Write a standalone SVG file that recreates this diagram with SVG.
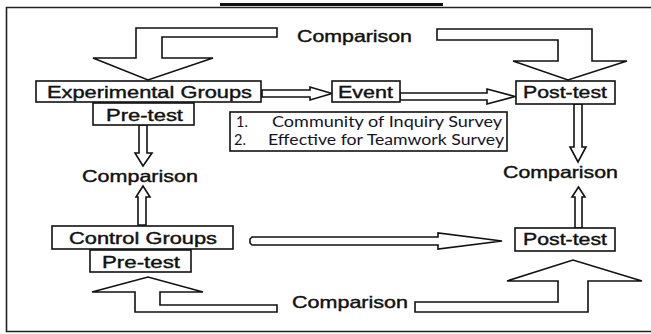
<svg xmlns="http://www.w3.org/2000/svg" width="651" height="334" viewBox="0 0 651 334">
<style>
.box{fill:#fff;stroke:#111;stroke-width:1.6}
.arr{fill:#fff;stroke:#111;stroke-width:1.6;stroke-linejoin:miter}
.lbl{font-family:"Liberation Sans",Arial,sans-serif;font-size:16.5px;fill:#111;stroke:#111;stroke-width:0.4}
.sv{font-family:Lato,"Liberation Sans",sans-serif;font-size:14.5px;fill:#141428}
</style>
<rect width="651" height="334" fill="#fff"/>
<g id="frame">
<path d="M651,7.5 H6.5 V331.5 H651" fill="none" stroke="#222" stroke-width="1.6"/>
<rect x="220" y="3" width="223" height="3" fill="#111"/>
</g>
<g id="connectors">
<polygon class="arr" points="136,28 277,28 277,37 162,37 162,58 213,58 148,80 93,58 136,58"/>
<polygon class="arr" points="437,29 592,29 592,61 627,61 568,80 513,61 558,61 558,40 437,40"/>
<polygon class="arr" points="262,90 310,90 310,87 332,93.5 310,100 310,97 262,97"/>
<polygon class="arr" points="400,93 487,93 487,89 515,96.5 487,104 487,100 400,100"/>
<polygon class="arr" points="139,125 147,125 147,153 152,153 143,166 135,153 139,153"/>
<polygon class="arr" points="138,225 146,225 146,197 150,197 143,186 136,197 138,197"/>
<polygon class="arr" points="574,104 582,104 582,147 586,147 578,162 570,147 574,147"/>
<polygon class="arr" points="575,228 582,228 582,197 585,197 578.5,187 572,197 575,197"/>
<polygon class="arr" points="252,237 438,237 438,233 502,241 438,249 438,245 252,245 250,243 250,239"/>
<polygon class="arr" points="135,312 277,312 277,305 160,305 160,292 203,292 148,277 92,292 135,292"/>
<polygon class="arr" points="415,302 558,302 558,281 507,281 573,260 642,281 588,281 588,312 415,312"/>
</g>
<g id="comparison-top"><text class="lbl" x="297" y="42" textLength="115" lengthAdjust="spacingAndGlyphs">Comparison</text></g>
<g id="experimental-groups">
<rect class="box" x="36" y="81" width="225" height="21"/>
<text class="lbl" x="47" y="98" textLength="205" lengthAdjust="spacingAndGlyphs">Experimental Groups</text>
</g>
<g id="pretest-exp">
<rect class="box" x="93" y="103" width="101" height="22"/>
<text class="lbl" x="106" y="121" textLength="77" lengthAdjust="spacingAndGlyphs">Pre-test</text>
</g>
<g id="event">
<rect class="box" x="332" y="81" width="68" height="21"/>
<text class="lbl" x="338" y="97.5" textLength="55" lengthAdjust="spacingAndGlyphs">Event</text>
</g>
<g id="posttest-exp">
<rect class="box" x="516" y="81" width="99" height="23"/>
<text class="lbl" x="523" y="98" textLength="84" lengthAdjust="spacingAndGlyphs">Post-test</text>
</g>
<g id="surveys">
<rect class="box" x="230" y="112" width="277" height="39"/>
<text class="sv" x="236" y="127">1.</text>
<text class="sv" x="272" y="127" textLength="230" lengthAdjust="spacingAndGlyphs">Community of Inquiry Survey</text>
<text class="sv" x="234" y="145">2.</text>
<text class="sv" x="268" y="145" textLength="236" lengthAdjust="spacingAndGlyphs">Effective for Teamwork Survey</text>
</g>
<g id="comparison-left"><text class="lbl" x="82" y="182" textLength="116" lengthAdjust="spacingAndGlyphs">Comparison</text></g>
<g id="comparison-right"><text class="lbl" x="503" y="178" textLength="115" lengthAdjust="spacingAndGlyphs">Comparison</text></g>
<g id="control-groups">
<rect class="box" x="52" y="226" width="181" height="23"/>
<text class="lbl" x="69" y="244" textLength="148" lengthAdjust="spacingAndGlyphs">Control Groups</text>
</g>
<g id="pretest-ctrl">
<rect class="box" x="90" y="250" width="101" height="22"/>
<text class="lbl" x="102" y="268" textLength="78" lengthAdjust="spacingAndGlyphs">Pre-test</text>
</g>
<g id="posttest-ctrl">
<rect class="box" x="515" y="228" width="100" height="23"/>
<text class="lbl" x="523" y="245" textLength="84" lengthAdjust="spacingAndGlyphs">Post-test</text>
</g>
<g id="comparison-bottom"><text class="lbl" x="292" y="308" textLength="116" lengthAdjust="spacingAndGlyphs">Comparison</text></g>
</svg>
